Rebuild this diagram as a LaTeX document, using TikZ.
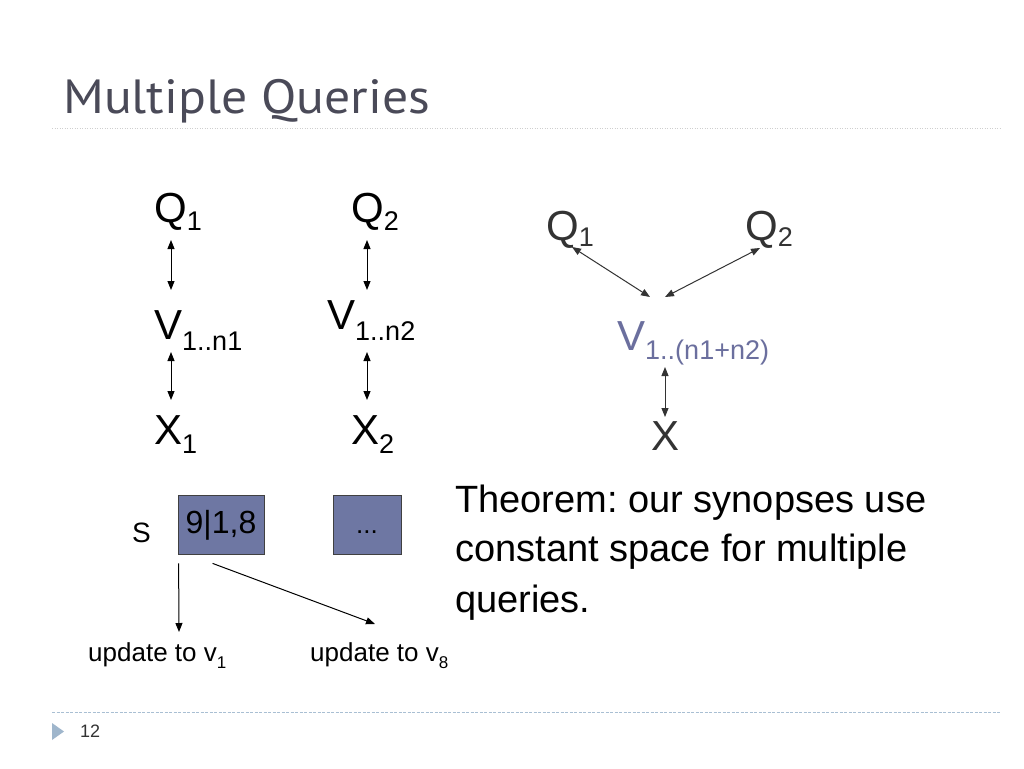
\documentclass[tikz,border=0pt]{standalone}
\usepackage{fontspec}
\usepackage{graphicx}
\setmainfont{Liberation Sans}
\newfontfamily\titlefont{PT Sans}
\usetikzlibrary{arrows.meta,calc}
\definecolor{titlecol}{HTML}{4A4A58}
\definecolor{rightcol}{HTML}{333333}
\definecolor{vblue}{HTML}{6B6F9E}
\definecolor{boxfill}{HTML}{6E77A3}
\definecolor{boxline}{HTML}{404040}
\definecolor{rulecol}{HTML}{CFCFCF}
\definecolor{footcol}{HTML}{A9BFD3}
\definecolor{trianglecol}{HTML}{9FB6CC}
\newcommand{\bigsym}{\fontsize{42}{46}\selectfont}
\newcommand{\mysub}[2][10pt]{\raisebox{-#1}{\fontsize{27}{29}\selectfont #2}}
\tikzset{
  lbl/.style={inner sep=0pt, anchor=base west, font=\bigsym},
  dbl/.style={{Triangle[length=9pt,width=7pt]}-{Triangle[length=9pt,width=7pt]}, line width=1pt},
  sgl/.style={-{Triangle[length=9pt,width=7pt]}, line width=1pt},
  synbox/.style={draw=boxline, line width=0.8pt, fill=boxfill, inner sep=0pt, minimum height=59pt, text height=22pt, text depth=4pt},
}
\begin{document}
\frenchspacing
\begin{tikzpicture}[x=1pt,y=-1pt]
\useasboundingbox (0,0) rectangle (1024,768);
\fill[white] (0,0) rectangle (1024,768);
% title
\node[inner sep=0pt, anchor=base west, text=titlecol, font=\titlefont\fontsize{48}{52}\selectfont] (title) at (63,113) {\resizebox{367pt}{\height}{Multiple Queries}};
\draw[rulecol, line width=1pt, dash pattern=on 1pt off 1.5pt] (52,128) -- (1000,128);
% left column 1
\node[lbl] (q1l) at (154,222) {Q\mysub[8pt]{1}};
\node[lbl] (v1l) at (154,339) {V\mysub[11pt]{1..n1}};
\node[lbl] (x1l) at (154,444) {X\mysub[9pt]{1}};
\draw[dbl] ($(q1l.base west)+(17,18)$) -- ($(v1l.base west)+(17,-49)$);
\draw[dbl] ($(v1l.base west)+(17,13)$) -- ($(x1l.base west)+(17,-44)$);
% left column 2
\node[lbl] (q2l) at (351,222) {Q\mysub[8pt]{2}};
\node[lbl] (v2l) at (327,329) {V\mysub[11pt]{1..n2}};
\node[lbl] (x2l) at (351,444) {X\mysub[9pt]{2}};
\draw[dbl] ($(q2l.base west)+(16,18)$) -- ($(v2l.base west)+(40,-39)$);
\draw[dbl] ($(v2l.base west)+(40,23)$) -- ($(x2l.base west)+(16,-44)$);
% right graph
\node[lbl, text=rightcol] (q1r) at (546,240) {Q\mysub[6pt]{1}};
\node[lbl, text=rightcol] (q2r) at (745,240) {Q\mysub[6pt]{2}};
\node[lbl, text=vblue] (vr) at (617,350) {V\mysub[9pt]{1..(n1+n2)}};
\node[lbl, text=rightcol] (xr) at (651,450) {X};
\draw[dbl, rightcol] ($(q1r.base west)+(26,7)$) -- ($(vr.base west)+(33,-53)$);
\draw[dbl, rightcol] ($(q2r.base west)+(15,8)$) -- ($(vr.base west)+(48,-53)$);
\draw[dbl, rightcol] ($(vr.base west)+(48,17)$) -- ($(xr.base west)+(14,-33)$);
% synopsis
\node[inner sep=0pt, anchor=base west, font=\fontsize{28}{30}\selectfont] (s) at (132,542) {S};
\node[synbox, minimum width=86pt, font=\fontsize{32}{34}\selectfont] (b1) at (221,524.5) {9|1,8};
\node[synbox, minimum width=68pt, font=\fontsize{26}{28}\selectfont] (b2) at (367,524.5) {...};
\coordinate (u1) at (179,632);
\coordinate (u8) at (375,624);
\draw[sgl] ($(b1.south west)+(1,9)$) -- (u1);
\draw[sgl] ($(b1.south west)+(35,9)$) -- (u8);
\node[inner sep=0pt, anchor=base west, font=\fontsize{26}{28}\selectfont] (t1) at (88,661) {update to v\raisebox{-7pt}{\fontsize{17}{18}\selectfont 1}};
\node[inner sep=0pt, anchor=base west, font=\fontsize{26}{28}\selectfont] (t8) at (310,661) {update to v\raisebox{-7pt}{\fontsize{17}{18}\selectfont 8}};
% theorem
\node[inner sep=0pt, anchor=base west, align=left, font=\fontsize{38}{49}\selectfont] (thm) at (455,612) {Theorem: our synopses use\\ constant space for multiple\\[2pt] queries.};
% footer
\draw[footcol, line width=1pt, dash pattern=on 3pt off 1.5pt] (52,712) -- (1000,712);
\fill[trianglecol] (52,723) -- (64,731.5) -- (52,740) -- cycle;
\node[inner sep=0pt, anchor=base west, text=rightcol, font=\fontsize{18}{20}\selectfont] (pg) at (80,737) {12};
\end{tikzpicture}
\end{document}
